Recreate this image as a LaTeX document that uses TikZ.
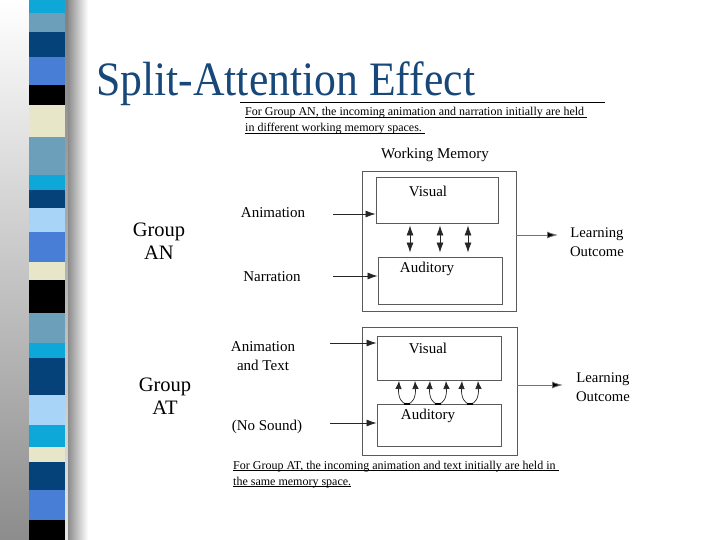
\documentclass[tikz,border=0pt]{standalone}
\usepackage{fontspec}
\setmainfont{Liberation Serif}
\usetikzlibrary{arrows.meta}
\definecolor{cyanS}{RGB}{14,168,216}
\definecolor{steelS}{RGB}{108,160,186}
\definecolor{navyS}{RGB}{6,66,122}
\definecolor{royalS}{RGB}{72,126,214}
\definecolor{beigeS}{RGB}{232,230,200}
\definecolor{lightS}{RGB}{168,212,248}
\definecolor{titleblue}{RGB}{24,72,122}
\definecolor{boxgray}{RGB}{90,90,90}
\newcommand\myul[1]{\setbox0\hbox{#1}\rlap{\rule[-1.6pt]{\wd0}{0.7pt}}\box0}
\begin{document}
\begin{tikzpicture}[x=1pt,y=-1pt,
  lbl/.style={font=\fontsize{15}{18}\selectfont, align=center, inner sep=0pt},
  grp/.style={font=\fontsize{20.5}{23}\selectfont, align=center, inner sep=0pt},
  captxt/.style={font=\fontsize{12}{14}\selectfont, anchor=base west, inner sep=0pt},
  box/.style={draw=boxgray, line width=0.9pt, inner sep=0pt},
  tip/.tip={Latex[length=10pt,width=7pt]},
  arr/.style={draw=black!85, line width=0.8pt, -tip},
  outarr/.style={draw=black!55, line width=0.8pt, -{Latex[length=11pt,width=7pt,fill=black]}},
  darr/.style={draw=black!85, line width=0.8pt, tip-tip},
  uarr/.style={draw=black!85, line width=0.7pt, {Latex[length=8pt,width=6.5pt]}-{Latex[length=8pt,width=6.5pt]}}
]
\useasboundingbox (0,0) rectangle (720,540);
\fill[white] (0,0) rectangle (720,540);
% left decorative band
\shade[top color=white, bottom color=black!45] (0,0) rectangle (32,540);
\shade[top color=black!50, bottom color=black!10] (62,0) rectangle (70,540);
\shade[left color=black!45, right color=white] (68,0) rectangle (88,540);
\foreach \ya/\yb/\c in {0/13/cyanS,13/32/steelS,32/57/navyS,57/85/royalS,85/105/black,105/137/beigeS,137/175/steelS,175/190/cyanS,190/208/navyS,208/232/lightS,232/262/royalS,262/280/beigeS,280/313/black,313/343/steelS,343/358/cyanS,358/395/navyS,395/425/lightS,425/447/cyanS,447/462/beigeS,462/490/navyS,490/520/royalS,520/540/black}
  {\fill[\c] (29,\ya) rectangle (65,\yb);}

% title
\node[anchor=base west, inner sep=0pt, text=titleblue, font=\fontsize{48}{48}\selectfont] (title) at (96,96) {\scalebox{0.91}[1]{Split-Attention Effect}};
\coordinate (tl1) at (240,102);
\coordinate (tl2) at (605,102);
\draw[line width=0.9pt] (tl1) -- (tl2);

% captions
\node[captxt] (c1a) at (245,116) {\myul{For Group AN, the incoming animation and narration initially are held\ }};
\node[captxt] (c1b) at (245,132) {\myul{in different working memory spaces.\ }};
\node[captxt] (c2a) at (233,469) {\myul{For Group AT, the incoming animation and text initially are held in\ }};
\node[captxt] (c2b) at (233,485) {\myul{the same memory space.}};

% ---------- Group AN ----------
\node[lbl] (wmt) at (435,155) {Working Memory};
\node[box, minimum width=154pt, minimum height=140pt] (wm1) at (439,241) {};
\node[box, minimum width=122pt, minimum height=46pt] (vis1) at (437,200) {};
\node[lbl] (vis1t) at (428,191) {Visual};
\node[box, minimum width=124pt, minimum height=47pt] (aud1) at (440,280.5) {};
\node[lbl] (aud1t) at (427,269) {Auditory};
\node[grp] (gan) at (159,241) {Group\\AN};
\node[lbl] (anim1) at (273,213) {Animation};
\node[lbl] (narr1) at (272,277) {Narration};
\coordinate (a1) at (333,214);
\coordinate (n1) at (333,276);
\draw[arr] (a1) -- (a1 -| vis1.west);
\draw[arr] (n1) -- (n1 -| aud1.west);
\foreach \dx in {-27,3,31}
  \draw[darr, shorten <=2pt, shorten >=4pt] ([xshift=\dx pt]vis1.south) -- ([xshift=\dx pt]vis1.south |- aud1.north);
\node[lbl, font=\fontsize{14.7}{19}\selectfont] (lo1) at (597,242) {Learning\\Outcome};
\coordinate (e1) at (558,235);
\draw[outarr] (wm1.east |- e1) -- (e1);

% ---------- Group AT ----------
\node[box, minimum width=155pt, minimum height=128pt] (wm2) at (439.5,391) {};
\node[box, minimum width=124pt, minimum height=44pt] (vis2) at (439,358) {};
\node[lbl] (vis2t) at (428,348) {Visual};
\node[box, minimum width=124pt, minimum height=42pt] (aud2) at (439,425) {};
\node[lbl] (aud2t) at (428,416) {Auditory};
\node[grp] (gat) at (165,396) {Group\\AT};
\node[lbl, font=\fontsize{15}{19}\selectfont] (anim2) at (263,356) {Animation\\and Text};
\node[lbl] (nos) at (267,427) {(No Sound)};
\coordinate (a2) at (330,343);
\coordinate (n2) at (330,423);
\draw[arr] (a2) -- (a2 -| vis2.west);
\draw[arr] (n2) -- (n2 -| aud2.west);
\foreach \cx in {407,438,470}{
  \draw[uarr] (\cx-8,381) .. controls (\cx-9,398) and (\cx-5,404) .. (\cx,404) .. controls (\cx+5,404) and (\cx+9,398) .. (\cx+8,381);
  \fill[black] (\cx-3,402.5) rectangle (\cx+3,405);
}
\node[lbl, font=\fontsize{14.7}{19}\selectfont] (lo2) at (603,387) {Learning\\Outcome};
\coordinate (e2) at (563,385);
\draw[outarr] (wm2.east |- e2) -- (e2);
\end{tikzpicture}
\end{document}
